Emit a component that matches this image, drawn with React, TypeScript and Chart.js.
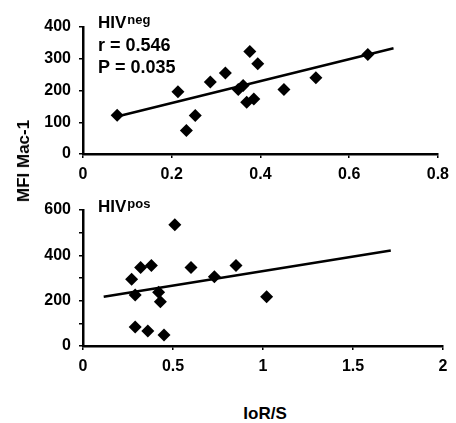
import React, { useEffect, useRef } from "react";
import { Chart, registerables } from "chart.js";

Chart.register(...registerables);

const FONT = "'Liberation Sans', Arial, sans-serif";

// HIVneg panel
const negX = [0.077, 0.214, 0.233, 0.253, 0.287, 0.321, 0.35, 0.361, 0.369, 0.385, 0.376, 0.394, 0.453, 0.525, 0.642];
const negY = [122, 196, 74, 121, 227, 255, 203, 216, 163, 173, 323, 284, 203, 240, 313];
const negFitX = [0.077, 0.7];
const negFitY = [118, 333];
const negXTicks = { min: 0, max: 0.8, step: 0.2 };
const negYTicks = { min: 0, max: 400, step: 100, labelEvery: 100 };
const negLabel = ["HIV", "neg"];
const negStats = ["r = 0.546", "P = 0.035"];

// HIVpos panel
const posX = [0.27, 0.29, 0.32, 0.38, 0.29, 0.36, 0.42, 0.43, 0.45, 0.51, 0.6, 0.73, 0.85, 1.02];
const posY = [294, 225, 346, 355, 84, 66, 237, 195, 49, 535, 346, 306, 355, 217];
const posFitX = [0.115, 1.71];
const posFitY = [217, 421];
const posXTicks = { min: 0, max: 2, step: 0.5 };
const posYTicks = { min: 0, max: 600, step: 100, labelEvery: 200 };
const posLabel = ["HIV", "pos"];
const posStats: string[] = [];

const yTitle = "MFI Mac-1";
const xTitle = "IoR/S";

type PanelProps = {
  xs: number[];
  ys: number[];
  fitX: number[];
  fitY: number[];
  xt: { min: number; max: number; step: number };
  yt: { min: number; max: number; step: number; labelEvery: number };
  label: string[];
  stats: string[];
  top: number;
  height: number;
  padTop: number;
  xAxisH: number;
  labelBase: number;
};

function Panel(p: PanelProps) {
  const ref = useRef<HTMLCanvasElement | null>(null);
  useEffect(() => {
    if (!ref.current) return;
    const annot = {
      id: "annot",
      afterDraw(chart: any) {
        const ctx = chart.ctx;
        ctx.save();
        ctx.fillStyle = "#000";
        ctx.textBaseline = "alphabetic";
        ctx.textAlign = "left";
        ctx.font = `bold 17px ${FONT}`;
        const x0 = 98;
        ctx.fillText(p.label[0], x0, p.labelBase);
        const w = ctx.measureText(p.label[0]).width;
        ctx.font = `bold 13px ${FONT}`;
        ctx.fillText(p.label[1], x0 + w + 1, p.labelBase - 4);
        ctx.font = `bold 18px ${FONT}`;
        p.stats.forEach((s, i) => {
          ctx.fillText(s, x0, p.labelBase + 23 + i * 21.5);
        });
        ctx.restore();
      },
    };
    const tickFont = { family: FONT, size: 16, weight: "bold" as const };
    const chart = new Chart(ref.current, {
      type: "scatter",
      data: {
        datasets: [
          {
            type: "scatter",
            data: p.xs.map((x, i) => ({ x, y: p.ys[i] })),
            pointStyle: "rectRot",
            pointRadius: 6.5,
            backgroundColor: "#000",
            borderColor: "#000",
            borderWidth: 0,
            order: 0,
          },
          {
            type: "line",
            data: p.fitX.map((x, i) => ({ x, y: p.fitY[i] })),
            borderColor: "#000",
            borderWidth: 2.5,
            pointRadius: 0,
            fill: false,
            order: 1,
          } as any,
        ],
      },
      options: {
        animation: false,
        responsive: false,
        devicePixelRatio: 1,
        layout: { padding: { top: p.padTop, right: 13, left: 0, bottom: 0 } },
        plugins: { legend: { display: false }, tooltip: { enabled: false } },
        scales: {
          x: {
            type: "linear",
            min: p.xt.min,
            max: p.xt.max,
            afterFit: (s: any) => {
              s.height = p.xAxisH;
            },
            ticks: {
              stepSize: p.xt.step,
              autoSkip: false,
              maxRotation: 0,
              padding: 7,
              color: "#000",
              font: tickFont,
              callback: (v: any) => String(Math.round(Number(v) * 100) / 100),
            },
            grid: {
              drawOnChartArea: false,
              drawTicks: true,
              tickLength: 4,
              tickColor: "#000",
              lineWidth: 1.5,
            },
            border: { color: "#000", width: 2.5 },
          },
          y: {
            type: "linear",
            min: p.yt.min,
            max: p.yt.max,
            afterFit: (s: any) => {
              s.width = 83;
            },
            ticks: {
              stepSize: p.yt.step,
              autoSkip: false,
              padding: 8,
              color: "#000",
              font: tickFont,
              callback: (v: any) => (Number(v) % p.yt.labelEvery === 0 ? String(v) : ""),
            },
            grid: {
              drawOnChartArea: false,
              drawTicks: true,
              tickLength: 4,
              tickColor: "#000",
              lineWidth: 1.5,
            },
            border: { color: "#000", width: 2.5 },
          },
        },
      },
      plugins: [annot],
    });
    return () => chart.destroy();
  }, []);
  return (
    <canvas
      ref={ref}
      width={456}
      height={p.height}
      style={{ position: "absolute", left: 0, top: p.top, width: 456, height: p.height }}
    />
  );
}

export default function App() {
  return (
    <div
      style={{
        position: "absolute",
        left: 0,
        top: 0,
        width: 456,
        height: 423,
        background: "#fff",
        fontFamily: FONT,
        overflow: "hidden",
      }}
    >
      <Panel
        xs={negX}
        ys={negY}
        fitX={negFitX}
        fitY={negFitY}
        xt={negXTicks}
        yt={negYTicks}
        label={negLabel}
        stats={negStats}
        top={0}
        height={195}
        padTop={27}
        xAxisH={41}
        labelBase={28}
      />
      <Panel
        xs={posX}
        ys={posY}
        fitX={posFitX}
        fitY={posFitY}
        xt={posXTicks}
        yt={posYTicks}
        label={posLabel}
        stats={posStats}
        top={190}
        height={195}
        padTop={20}
        xAxisH={39}
        labelBase={22}
      />
      <div
        style={{
          position: "absolute",
          left: 24,
          top: 161,
          transform: "translate(-50%, -50%) rotate(-90deg)",
          whiteSpace: "nowrap",
          fontWeight: "bold",
          fontSize: 17,
          lineHeight: "20px",
          color: "#000",
        }}
      >
        {yTitle}
      </div>
      <div
        style={{
          position: "absolute",
          left: 265,
          top: 414,
          transform: "translate(-50%, -50%)",
          whiteSpace: "nowrap",
          fontWeight: "bold",
          fontSize: 17,
          lineHeight: "20px",
          color: "#000",
        }}
      >
        {xTitle}
      </div>
    </div>
  );
}
